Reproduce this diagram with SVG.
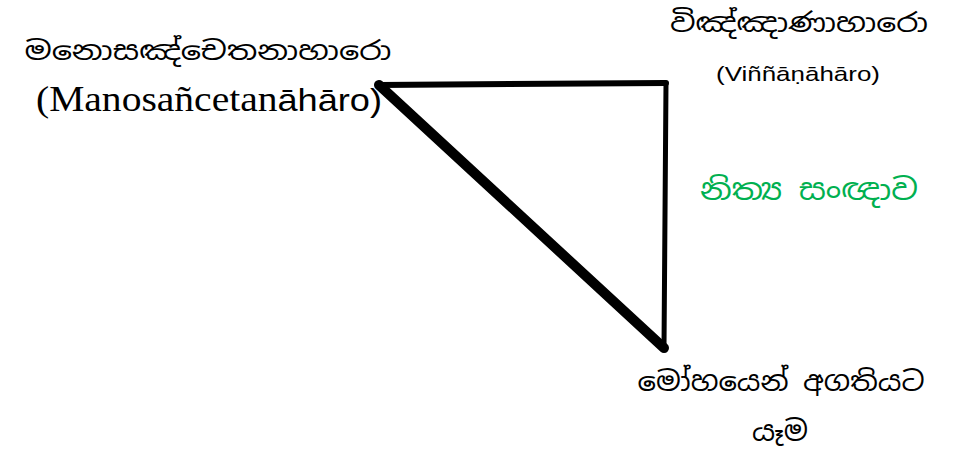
<svg xmlns="http://www.w3.org/2000/svg" width="958" height="452" viewBox="0 0 958 452">
<style>
.si{font-family:"Noto Sans Sinhala","Iskoola Pota","Noto Serif Sinhala","Noto Sans",sans-serif;fill:#000}
.lat{font-family:"Liberation Sans",Arial,sans-serif;fill:#000}
.ser{font-family:"Liberation Serif","Times New Roman",serif;fill:#000}
.edge{stroke:#000;fill:none;stroke-linecap:round;stroke-linejoin:round}
</style>
<rect width="958" height="452" fill="#fff"/>
<g id="connectors">
<line class="edge" x1="379" y1="85" x2="666" y2="83" stroke-width="6"/>
<line class="edge" x1="666" y1="83" x2="664" y2="348" stroke-width="5"/>
<line class="edge" x1="379" y1="85" x2="664" y2="348" stroke-width="10"/>
</g>
<g id="node-mano">
<text class="si" x="208" y="60" font-size="26" text-anchor="middle" textLength="367" lengthAdjust="spacingAndGlyphs">මනොසඤ්චෙතනාහාරො</text>
<text class="ser" x="36" y="111" font-size="35" textLength="346" lengthAdjust="spacingAndGlyphs">(Manosañcetan<tspan class="lat" font-size="32">āhāro)</tspan></text>
</g>
<g id="node-vinnana">
<text class="si" x="799" y="32" font-size="26" text-anchor="middle" textLength="258" lengthAdjust="spacingAndGlyphs">විඤ්ඤාණාහාරො</text>
<text class="lat" x="798" y="81" font-size="21" text-anchor="middle" textLength="164" lengthAdjust="spacingAndGlyphs">(Viññāṇāhāro)</text>
</g>
<g id="node-nitya">
<text class="si" x="809" y="200" font-size="29" text-anchor="middle" style="fill:#00b050" textLength="218" lengthAdjust="spacingAndGlyphs">නිත්‍ය සංඥාව</text>
</g>
<g id="node-moha">
<text class="si" x="781" y="391" font-size="27" text-anchor="middle" textLength="287" lengthAdjust="spacingAndGlyphs">මෝහයෙන් අගතියට</text>
<text class="si" x="780" y="441" font-size="28" text-anchor="middle" textLength="56" lengthAdjust="spacingAndGlyphs">යෑම</text>
</g>
</svg>
